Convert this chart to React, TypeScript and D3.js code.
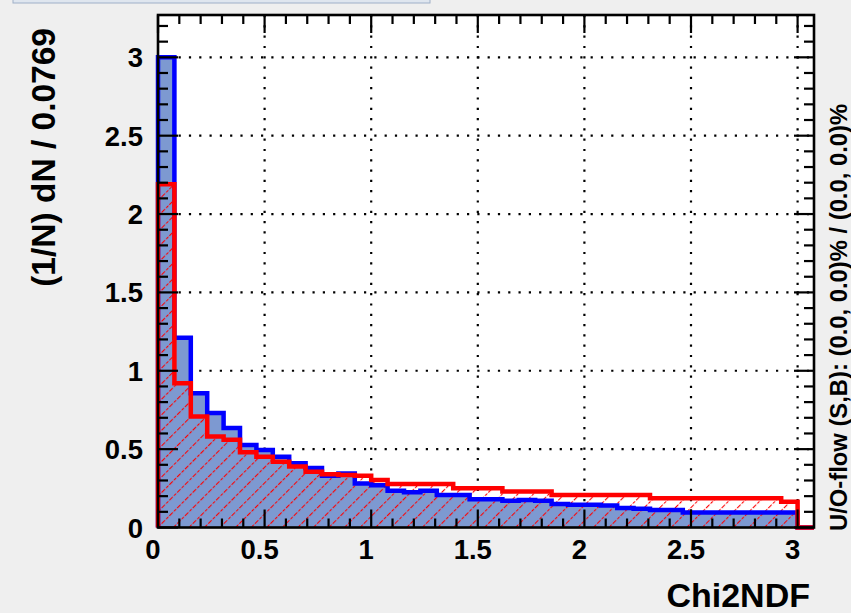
import React from "react";
import * as d3 from "d3";

// ---- data ----
const BIN_WIDTH = 0.0769231;
const signal = [
  3.0, 1.21, 0.857, 0.73, 0.635, 0.527, 0.495, 0.452, 0.41, 0.38,
  0.33, 0.345, 0.28, 0.27, 0.235, 0.225, 0.235, 0.207, 0.207, 0.18,
  0.18, 0.17, 0.175, 0.17, 0.15, 0.145, 0.145, 0.14, 0.125, 0.12,
  0.112, 0.112, 0.095, 0.095, 0.095, 0.095, 0.095, 0.095, 0.095, 0,
];
const background = [
  2.19, 0.92, 0.708, 0.58, 0.56, 0.48, 0.452, 0.42, 0.39, 0.356,
  0.34, 0.335, 0.33, 0.303, 0.278, 0.278, 0.278, 0.278, 0.25, 0.25,
  0.25, 0.229, 0.229, 0.229, 0.207, 0.207, 0.207, 0.207, 0.207, 0.207,
  0.186, 0.186, 0.186, 0.186, 0.186, 0.186, 0.186, 0.186, 0.165, 0,
];
const xTickLabels = ["0", "0.5", "1", "1.5", "2", "2.5", "3"];
const yTickLabels = ["0", "0.5", "1", "1.5", "2", "2.5", "3"];
const xTitle = "Chi2NDF";
const yTitle = "(1/N) dN / 0.0769";
const sideText = "U/O-flow (S,B): (0.0, 0.0)% / (0.0, 0.0)%";

const W = 851;
const H = 613;
const FL = 158, FR = 814, FT = 15, FB = 527.5;
const FONT = "'Liberation Sans', Arial, Helvetica, sans-serif";

export default function App() {
  const nb = signal.length;
  const x = d3.scaleLinear().domain([0, nb * BIN_WIDTH]).range([FL, FR]);
  const y = d3.scaleLinear().domain([0, 3.27]).range([FB, FT]);

  const stepPts = (vals: number[]): [number, number][] => {
    const pts: [number, number][] = [[x(0), y(0)]];
    vals.forEach((v, i) => {
      pts.push([x(i * BIN_WIDTH), y(v)]);
      pts.push([x((i + 1) * BIN_WIDTH), y(v)]);
    });
    pts.push([x(vals.length * BIN_WIDTH), y(0)]);
    return pts;
  };
  const line = d3.line();
  const sigPath = line(stepPts(signal)) as string;
  const bkgPath = line(stepPts(background)) as string;

  const xMajor = xTickLabels.map((t) => +t);
  const yMajor = yTickLabels.map((t) => +t);
  const xMinor = d3.range(0, 31).map((i) => i / 10).filter((v) => x(v) <= FR);
  const yMinor = d3.range(0, 33).map((i) => i / 10).filter((v) => y(v) >= FT);

  const isMajor = (v: number) => Math.abs(v * 2 - Math.round(v * 2)) < 1e-6;

  return (
    <svg
      width={W}
      height={H}
      style={{ position: "absolute", left: 0, top: 0, background: "#efefef" }}
    >
      <defs>
        <pattern
          id="hatch"
          patternUnits="userSpaceOnUse"
          width={11}
          height={11}
          patternTransform="rotate(45)"
        >
          <line x1={0} y1={0} x2={0} y2={11} stroke="#ff0000" strokeWidth={2.2} strokeDasharray="3 1.6" />
        </pattern>
      </defs>
      <rect x={0} y={0} width={W} height={H} fill="#efefef" />
      <rect x={13} y={-2} width={417} height={5} fill="#dfe6ef" stroke="#9fb0c8" strokeWidth={1} />

      {/* frame interior */}
      <rect x={FL} y={FT} width={FR - FL} height={FB - FT} fill="#ffffff" />

      {/* grid */}
      <g stroke="#000" strokeWidth={2.2} strokeDasharray="2.2 8.1" fill="none">
        {xMajor.filter((v) => v > 0).map((v) => (
          <line key={"gx" + v} x1={x(v)} x2={x(v)} y1={FT} y2={FB} />
        ))}
        {yMajor.filter((v) => v > 0).map((v) => (
          <line key={"gy" + v} x1={FL} x2={FR} y1={y(v)} y2={y(v)} />
        ))}
      </g>

      {/* histograms */}
      <path d={sigPath} fill="#7d99d1" stroke="none" />
      <path d={bkgPath} fill="url(#hatch)" stroke="none" />
      <path d={sigPath} fill="none" stroke="#0000ff" strokeWidth={4.5} strokeLinejoin="miter" />
      <path d={bkgPath} fill="none" stroke="#ff0000" strokeWidth={4.5} strokeLinejoin="miter" />

      {/* ticks */}
      <g stroke="#000" strokeWidth={2.2}>
        {xMinor.map((v) => {
          const L = isMajor(v) ? 18 : 9;
          return (
            <g key={"tx" + v}>
              <line x1={x(v)} x2={x(v)} y1={FB} y2={FB - L} />
              <line x1={x(v)} x2={x(v)} y1={FT} y2={FT + L} />
            </g>
          );
        })}
        {yMinor.map((v) => {
          const L = isMajor(v) ? 20 : 10;
          return (
            <g key={"ty" + v}>
              <line x1={FL} x2={FL + L} y1={y(v)} y2={y(v)} />
              <line x1={FR} x2={FR - L} y1={y(v)} y2={y(v)} />
            </g>
          );
        })}
      </g>

      {/* frame */}
      <rect x={FL} y={FT} width={FR - FL} height={FB - FT} fill="none" stroke="#000" strokeWidth={2.6} />

      {/* tick labels */}
      <g fontFamily={FONT} fontWeight="bold" fontSize={27.5} fill="#000">
        {xTickLabels.map((t) => (
          <text key={"lx" + t} x={x(+t) - 5} y={559} textAnchor="middle">
            {t}
          </text>
        ))}
        {yTickLabels.map((t) => (
          <text key={"ly" + t} x={143} y={y(+t) + 10} textAnchor="end">
            {t}
          </text>
        ))}
      </g>

      {/* titles */}
      <text
        x={810}
        y={607}
        textAnchor="end"
        fontFamily={FONT}
        fontWeight="bold"
        fontSize={34}
        fill="#000"
      >
        {xTitle}
      </text>
      <text
        transform="translate(55,28) rotate(-90)"
        textAnchor="end"
        fontFamily={FONT}
        fontWeight="bold"
        fontSize={33.5}
        fill="#000"
      >
        {yTitle}
      </text>
      <text
        transform="translate(847,531) rotate(-90)"
        textAnchor="start"
        fontFamily={FONT}
        fontWeight="bold"
        fontSize={23.8}
        fill="#000"
      >
        {sideText}
      </text>
    </svg>
  );
}
